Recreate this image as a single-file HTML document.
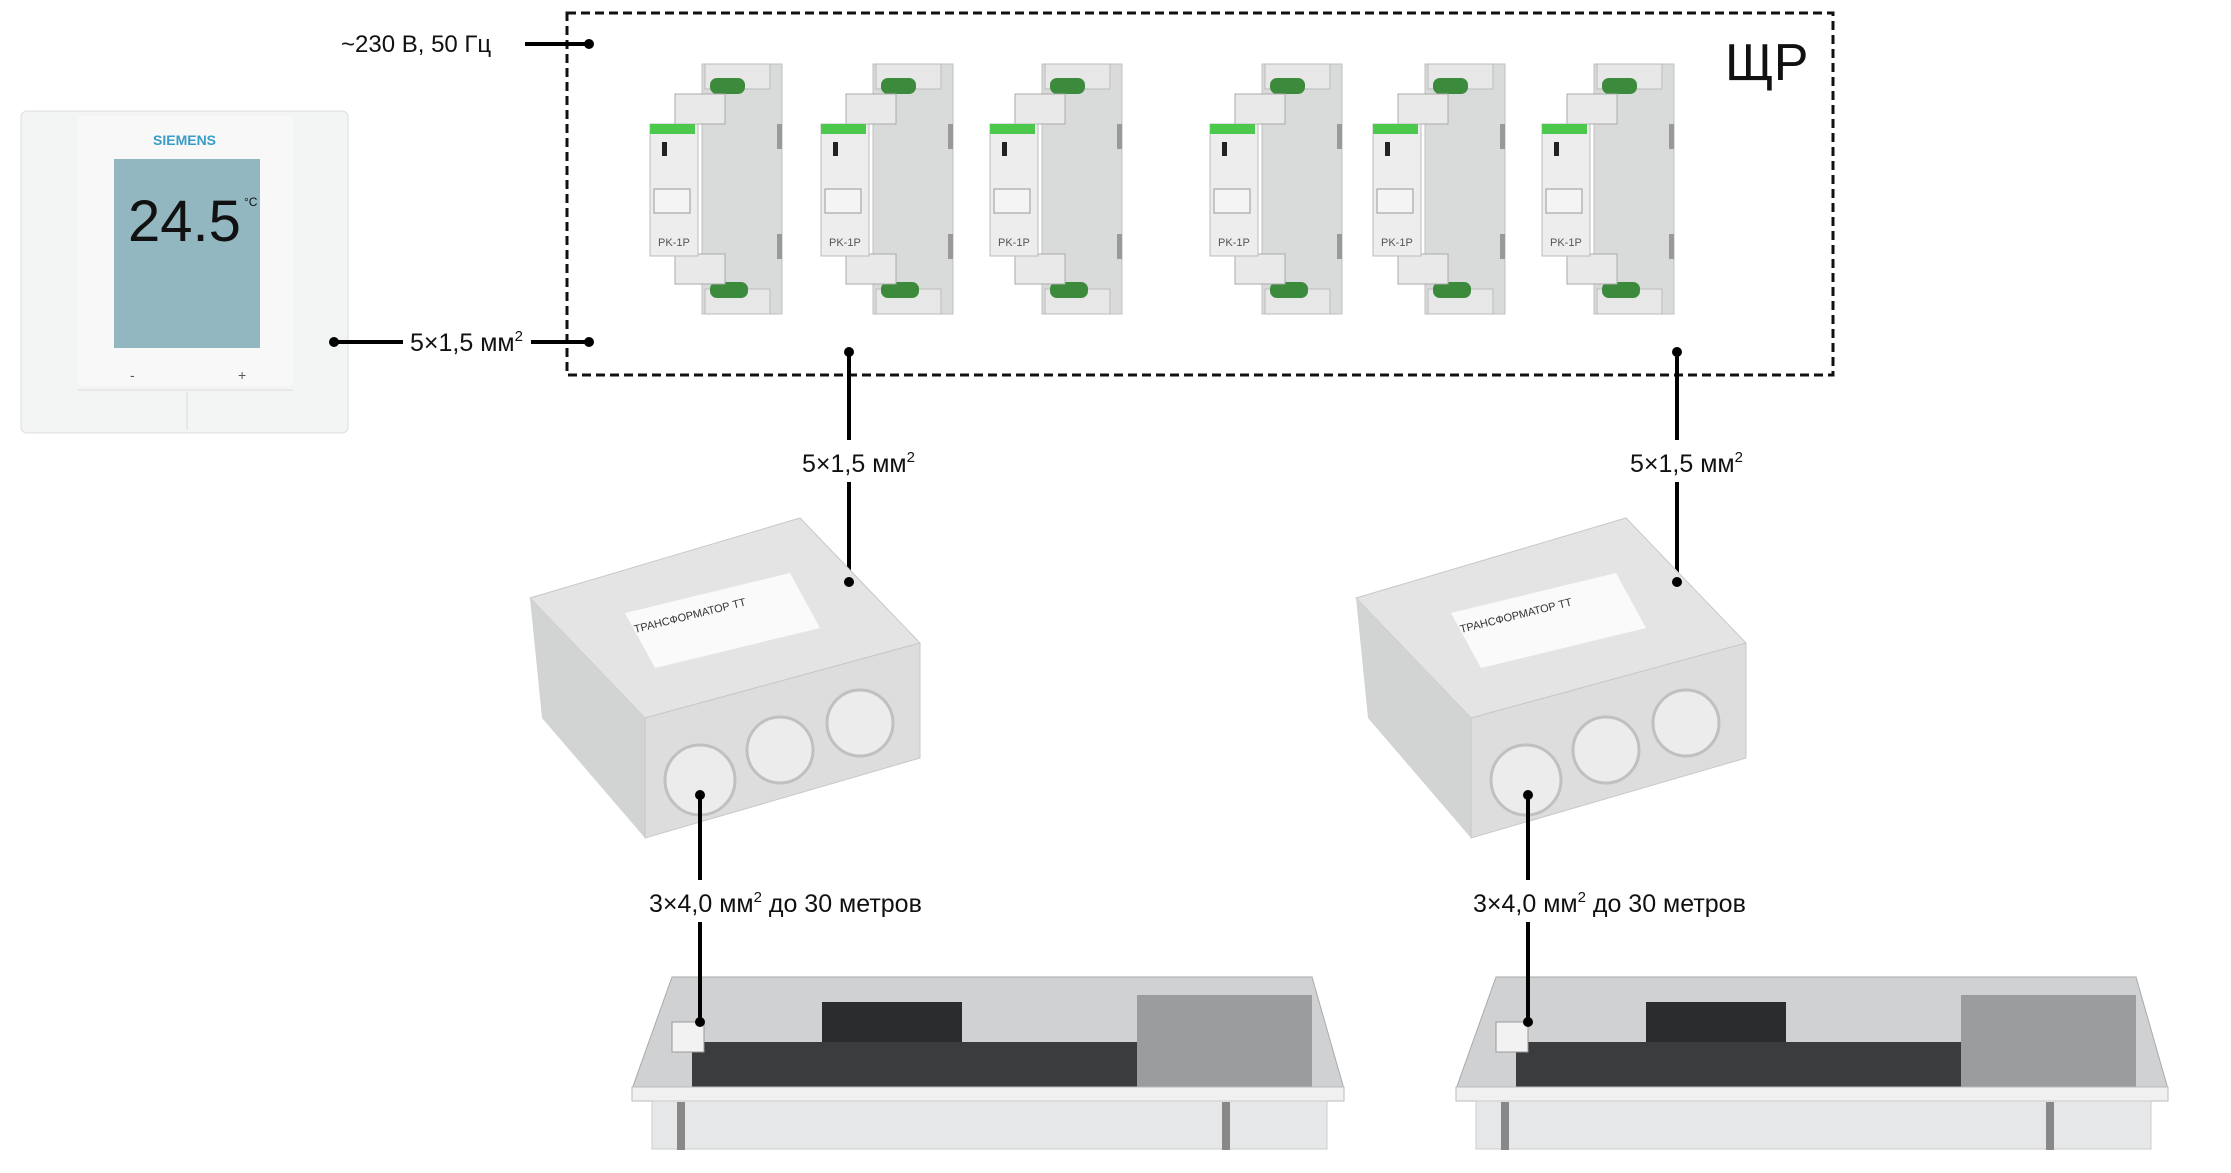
<!DOCTYPE html>
<html><head><meta charset="utf-8"><style>
html,body{margin:0;padding:0;background:#fff;}
svg{display:block;}
text{font-family:"Liberation Sans",sans-serif;}
</style></head><body>
<svg width="2231" height="1173" viewBox="0 0 2231 1173" xmlns="http://www.w3.org/2000/svg">
<defs>
<g id="relay">
  <rect x="52" y="0" width="80" height="250" fill="#d9dbda" stroke="#bfc1c0"/>
  <rect x="55" y="0" width="65" height="25" fill="#e6e7e6" stroke="#bbb"/>
  <rect x="60" y="14" width="35" height="16" rx="7" fill="#3c8a3c"/>
  <rect x="55" y="225" width="65" height="25" fill="#e6e7e6" stroke="#bbb"/>
  <rect x="60" y="218" width="38" height="16" rx="7" fill="#3c8a3c"/>
  <rect x="25" y="30" width="50" height="30" fill="#e8e9e8" stroke="#aaa"/>
  <rect x="25" y="190" width="50" height="30" fill="#e8e9e8" stroke="#aaa"/>
  <rect x="0" y="60" width="48" height="132" fill="#ecedec" stroke="#bcbcbc"/>
  <rect x="0" y="60" width="45" height="10" fill="#4cc94c"/>
  <rect x="12" y="78" width="5" height="14" fill="#222"/>
  <rect x="4" y="125" width="36" height="24" fill="#f4f4f4" stroke="#999"/>
  <text x="8" y="182" font-size="11" fill="#555">PK-1P</text>
  <rect x="127" y="60" width="5" height="25" fill="#999"/>
  <rect x="127" y="170" width="5" height="25" fill="#999"/>
</g>
<g id="tbox">
  <polygon points="0,80 270,0 390,125 115,200" fill="#e3e4e3" stroke="#c8c8c8"/>
  <polygon points="0,80 115,200 115,320 12,200" fill="#d2d4d3"/>
  <polygon points="115,200 390,125 390,240 115,320" fill="#dcdddc" stroke="#c8c8c8"/>
  <polygon points="95,95 260,55 290,110 125,150" fill="#fafafa"/>
  <text x="105" y="115" font-size="11" fill="#333" transform="rotate(-14 105 115)">ТРАНСФОРМАТОР  ТТ</text>
  <circle cx="170" cy="262" r="35" fill="#ececec" stroke="#c0c0c0" stroke-width="3"/>
  <circle cx="250" cy="232" r="33" fill="#ececec" stroke="#c0c0c0" stroke-width="3"/>
  <circle cx="330" cy="205" r="33" fill="#ececec" stroke="#c0c0c0" stroke-width="3"/>
</g>
<g id="conv">
  <polygon points="40,0 680,0 712,112 0,112" fill="#cfd1d3" stroke="#aaa"/>
  <rect x="60" y="65" width="520" height="47" fill="#3a3c3e"/>
  <rect x="190" y="25" width="140" height="40" fill="#2b2c2e"/>
  <rect x="505" y="18" width="175" height="94" fill="#9a9c9e"/>
  <rect x="40" y="45" width="32" height="30" fill="#f2f2f2" stroke="#999"/>
  <rect x="0" y="110" width="712" height="14" fill="#f0f0f0" stroke="#bbb"/>
  <rect x="20" y="124" width="675" height="48" fill="#e6e7e8" stroke="#ccc"/>
  <rect x="45" y="125" width="8" height="48" fill="#888"/>
  <rect x="590" y="125" width="8" height="48" fill="#888"/>
</g>
</defs>

<rect x="567" y="13" width="1266" height="362" fill="none" stroke="#111" stroke-width="3" stroke-dasharray="9,5"/>
<text x="1725" y="80" font-size="52" fill="#111">ЩР</text>

<text x="341" y="52" font-size="24" fill="#111">~230 В, 50 Гц</text>
<line x1="525" y1="44" x2="589" y2="44" stroke="#000" stroke-width="4"/>
<circle cx="589" cy="44" r="5" fill="#000"/>

<rect x="21" y="111" width="327" height="322" rx="6" fill="#f3f4f4" stroke="#dcdcdc"/>
<rect x="78" y="116" width="215" height="270" rx="4" fill="#f8f8f8"/>
<text x="153" y="145" font-size="14" fill="#3a9cc8" font-weight="bold">SIEMENS</text>
<rect x="114" y="159" width="146" height="189" fill="#93b7c1"/>
<text x="128" y="241" font-size="58" fill="#111">24.5</text>
<text x="244" y="206" font-size="12" fill="#111">°C</text>
<line x1="78" y1="390" x2="293" y2="390" stroke="#ddd"/>
<line x1="187" y1="392" x2="187" y2="430" stroke="#ddd"/>
<text x="130" y="380" font-size="14" fill="#555">-</text>
<text x="238" y="380" font-size="14" fill="#555">+</text>

<line x1="334" y1="342" x2="403" y2="342" stroke="#000" stroke-width="4"/>
<circle cx="334" cy="342" r="5" fill="#000"/>
<text x="410" y="351" font-size="25" fill="#111">5×1,5 мм<tspan font-size="15" dy="-10">2</tspan></text>
<line x1="531" y1="342" x2="589" y2="342" stroke="#000" stroke-width="4"/>
<circle cx="589" cy="342" r="5" fill="#000"/>

<use href="#relay" x="650" y="64"/>
<use href="#relay" x="821" y="64"/>
<use href="#relay" x="990" y="64"/>
<use href="#relay" x="1210" y="64"/>
<use href="#relay" x="1373" y="64"/>
<use href="#relay" x="1542" y="64"/>

<line x1="849" y1="352" x2="849" y2="440" stroke="#000" stroke-width="4"/>
<circle cx="849" cy="352" r="5" fill="#000"/>
<text x="802" y="472" font-size="25" fill="#111">5×1,5 мм<tspan font-size="15" dy="-10">2</tspan></text>
<line x1="849" y1="482" x2="849" y2="582" stroke="#000" stroke-width="4"/>
<line x1="1677" y1="352" x2="1677" y2="440" stroke="#000" stroke-width="4"/>
<circle cx="1677" cy="352" r="5" fill="#000"/>
<text x="1630" y="472" font-size="25" fill="#111">5×1,5 мм<tspan font-size="15" dy="-10">2</tspan></text>
<line x1="1677" y1="482" x2="1677" y2="582" stroke="#000" stroke-width="4"/>

<use href="#tbox" x="530" y="518"/>
<use href="#tbox" x="1356" y="518"/>
<circle cx="849" cy="582" r="5" fill="#000"/>
<circle cx="1677" cy="582" r="5" fill="#000"/>

<use href="#conv" x="632" y="977"/>
<use href="#conv" x="1456" y="977"/>

<line x1="700" y1="795" x2="700" y2="880" stroke="#000" stroke-width="4"/>
<circle cx="700" cy="795" r="5" fill="#000"/>
<text x="649" y="912" font-size="25" fill="#111">3×4,0 мм<tspan font-size="15" dy="-10">2</tspan><tspan dy="10"> до 30 метров</tspan></text>
<line x1="700" y1="922" x2="700" y2="1022" stroke="#000" stroke-width="4"/>
<circle cx="700" cy="1022" r="5" fill="#000"/>
<line x1="1528" y1="795" x2="1528" y2="880" stroke="#000" stroke-width="4"/>
<circle cx="1528" cy="795" r="5" fill="#000"/>
<text x="1473" y="912" font-size="25" fill="#111">3×4,0 мм<tspan font-size="15" dy="-10">2</tspan><tspan dy="10"> до 30 метров</tspan></text>
<line x1="1528" y1="922" x2="1528" y2="1022" stroke="#000" stroke-width="4"/>
<circle cx="1528" cy="1022" r="5" fill="#000"/>
</svg>
</body></html>
